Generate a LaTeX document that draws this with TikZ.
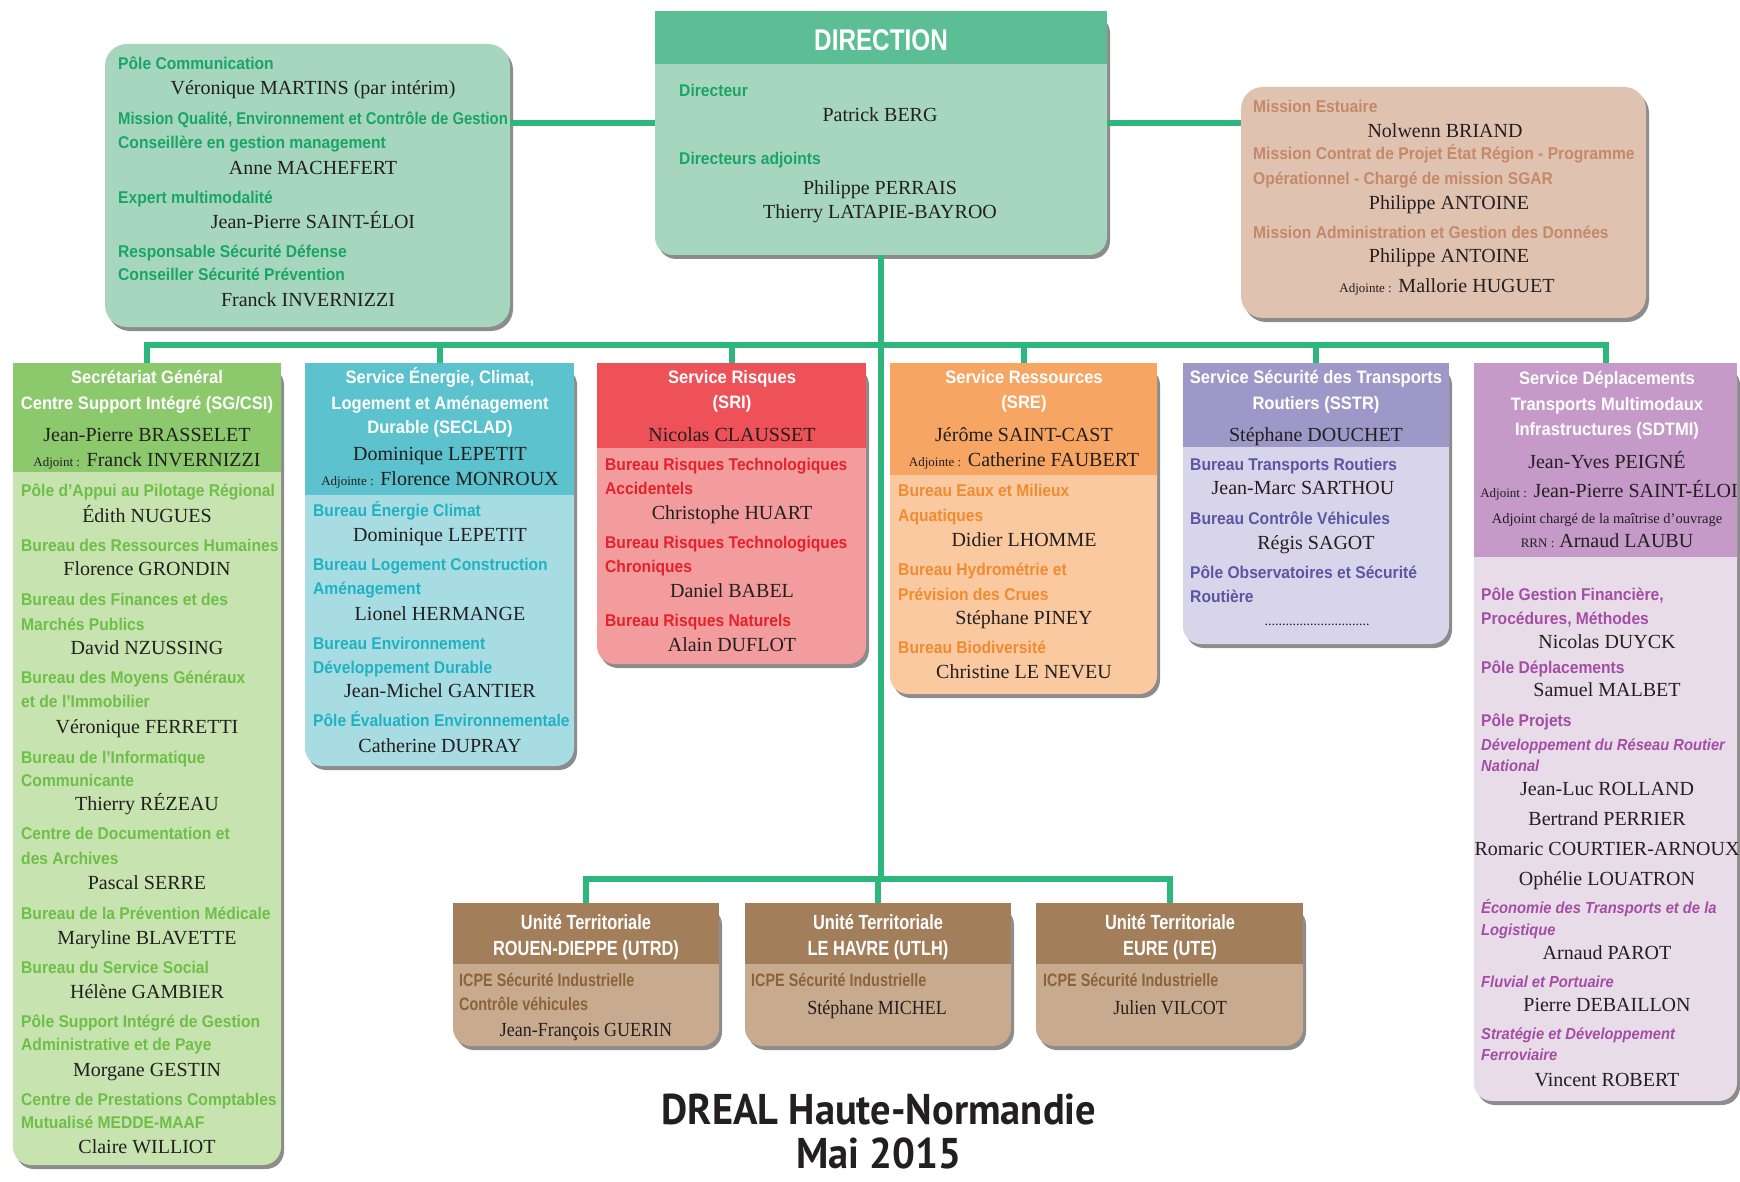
\documentclass[tikz,border=0pt]{standalone}
\usepackage{fontspec}
\usepackage{graphicx}
\setmainfont{Liberation Serif}
\newfontfamily\labff[FakeStretch=0.92]{Liberation Sans}
\newfontfamily\unff[FakeStretch=0.8]{Liberation Sans}
\newfontfamily\titff[FakeStretch=0.94]{PT Sans}
\newfontfamily\nmnff[FakeStretch=0.9]{Liberation Serif}
\usetikzlibrary{shadows}

\definecolor{lnc}{HTML}{2DB77C}
\definecolor{dirh}{HTML}{5CBE94}
\definecolor{dirb}{HTML}{A6D7BE}
\definecolor{dirl}{HTML}{19A563}
\definecolor{trb}{HTML}{E0C2B0}
\definecolor{trl}{HTML}{C4896A}
\definecolor{sgh}{HTML}{8CC86C}
\definecolor{sgb}{HTML}{C7E3B0}
\definecolor{sgl}{HTML}{6EBF47}
\definecolor{sech}{HTML}{5BC2CE}
\definecolor{secb}{HTML}{A8DCE3}
\definecolor{secl}{HTML}{1FB2C2}
\definecolor{srih}{HTML}{EE5157}
\definecolor{srib}{HTML}{F39C9D}
\definecolor{sril}{HTML}{E52129}
\definecolor{sreh}{HTML}{F6A563}
\definecolor{sreb}{HTML}{FAC9A0}
\definecolor{srel}{HTML}{F08B32}
\definecolor{ssth}{HTML}{9E98C9}
\definecolor{sstb}{HTML}{D8D5EB}
\definecolor{sstl}{HTML}{5D55A4}
\definecolor{sdth}{HTML}{C59AC8}
\definecolor{sdtb}{HTML}{E8DCE8}
\definecolor{sdtl}{HTML}{A44DA6}
\definecolor{uth}{HTML}{A27E5B}
\definecolor{utb}{HTML}{C8AB8F}
\definecolor{utl}{HTML}{8B6339}
\definecolor{nmc}{HTML}{231F20}

\newcommand\labfont{\labff\bfseries\fontsize{17}{20}\selectfont}
\newcommand\labifont{\labff\bfseries\itshape\fontsize{16}{19}\selectfont}
\newcommand\hdfont{\labff\bfseries\fontsize{18}{21}\selectfont}
\newcommand\nmfont{\fontsize{20}{22}\selectfont}
\newcommand\smfont{\fontsize{13}{14}\selectfont}
\newcommand\ufont{\unff\fontsize{18}{20}\selectfont}
\newcommand\uhfont{\unff\fontsize{20.5}{22}\selectfont}

\newcounter{tn}
\newcommand\Lb[3]{\stepcounter{tn}\node[lab] (t\arabic{tn}) at (#1,#2+6) {#3};}
\newcommand\Li[3]{\stepcounter{tn}\node[lab,font=\labifont] (t\arabic{tn}) at (#1,#2+6) {#3};}
\newcommand\Nm[3]{\stepcounter{tn}\node[nm] (t\arabic{tn}) at (#1,#2+7) {#3};}
\newcommand\Hd[3]{\stepcounter{tn}\node[hd] (t\arabic{tn}) at (#1,#2+6.5) {#3};}
\newcommand\Bx[7]{\node[boxs, rounded corners=#7, fill=#6, minimum width={#4-#2}, minimum height={#5-#3}] (#1) at ({(#2+#4)/2},{(#3+#5)/2}) {};}

\tikzset{
  conn/.style={draw=lnc, line width=6pt},
  lab/.style={anchor=base west, inner sep=0pt, font=\labfont, text=curl},
  nm/.style={anchor=base, inner sep=0pt, font=\nmfont, text=nmc},
  hd/.style={anchor=base, inner sep=0pt, font=\hdfont, text=white},
  boxs/.style={rectangle, inner sep=0pt, outer sep=0pt,
    drop shadow={shadow xshift=3pt, shadow yshift=-4pt, opacity=0.45, fill=black}},
  titl/.style={anchor=base, inner sep=0pt, text=nmc, font=\titff\bfseries\fontsize{43}{46}\selectfont}
}

\begin{document}
\begin{tikzpicture}[x=1pt,y=-1pt]
\useasboundingbox (0,0) rectangle (1740,1182);
\fill[white] (0,0) rectangle (1740,1182);
\colorlet{curl}{dirl}

% ---------- DIRECTION ----------
\Bx{dir}{655}{11}{1107}{255}{dirb}{18pt}
\fill[dirh] (655,11) rectangle (1107,64);
\node[anchor=base, inner sep=0pt, text=white, font=\labff\bfseries\fontsize{30}{32}\selectfont] (dtitle) at (881,51) {\scalebox{0.88}[1]{DIRECTION}};
\Lb{679}{91}{Directeur}
\Nm{880}{115}{Patrick BERG}
\Lb{679}{159}{Directeurs adjoints}
\Nm{880}{188}{Philippe PERRAIS}
\Nm{880}{212}{Thierry LATAPIE-BAYROO}

% ---------- top left ----------
\Bx{tl}{105}{44}{510}{327}{dirb}{22pt}
\Lb{118}{64}{Pôle Communication}
\Nm{313}{88}{Véronique MARTINS (par intérim)}
\Lb{118}{119}{\scalebox{0.95}[1]{Mission Qualité, Environnement et Contrôle de Gestion}}
\Lb{118}{143}{Conseillère en gestion management}
\Nm{313}{168}{Anne MACHEFERT}
\Lb{118}{198}{Expert multimodalité}
\Nm{313}{222}{Jean-Pierre SAINT-ÉLOI}
\Lb{118}{252}{Responsable Sécurité Défense}
\Lb{118}{275}{Conseiller Sécurité Prévention}
\Nm{308}{300}{Franck INVERNIZZI}

% ---------- top right ----------
\Bx{tr}{1241}{87}{1646}{318}{trb}{22pt}
\colorlet{curl}{trl}
\Lb{1253}{107}{Mission Estuaire}
\Nm{1445}{131}{Nolwenn BRIAND}
\Lb{1253}{154}{Mission Contrat de Projet État Région - Programme}
\Lb{1253}{179}{Opérationnel - Chargé de mission SGAR}
\Nm{1449}{203}{Philippe ANTOINE}
\Lb{1253}{233}{Mission Administration et Gestion des Données}
\Nm{1449}{256}{Philippe ANTOINE}
\Nm{1447}{286}{{\smfont Adjointe :} Mallorie HUGUET}

% ---------- SG ----------
\Bx{sg}{13}{363}{281}{1165}{sgb}{18pt}
\fill[sgh] (13,363) rectangle (281,472);
\colorlet{curl}{sgl}
\Hd{147}{377}{Secrétariat Général}
\Hd{147}{403}{Centre Support Intégré (SG/CSI)}
\Nm{147}{434}{Jean-Pierre BRASSELET}
\Nm{147}{459}{{\smfont Adjoint :} Franck INVERNIZZI}
\Lb{21}{490}{Pôle d’Appui au Pilotage Régional}
\Nm{147}{515}{Édith NUGUES}
\Lb{21}{545}{Bureau des Ressources Humaines}
\Nm{147}{568}{Florence GRONDIN}
\Lb{21}{599}{Bureau des Finances et des}
\Lb{21}{624}{Marchés Publics}
\Nm{147}{647}{David NZUSSING}
\Lb{21}{677}{Bureau des Moyens Généraux}
\Lb{21}{701}{et de l’Immobilier}
\Nm{147}{726}{Véronique FERRETTI}
\Lb{21}{757}{Bureau de l’Informatique}
\Lb{21}{780}{Communicante}
\Nm{147}{803}{Thierry RÉZEAU}
\Lb{21}{833}{Centre de Documentation et}
\Lb{21}{858}{des Archives}
\Nm{147}{882}{Pascal SERRE}
\Lb{21}{913}{Bureau de la Prévention Médicale}
\Nm{147}{937}{Maryline BLAVETTE}
\Lb{21}{967}{Bureau du Service Social}
\Nm{147}{991}{Hélène GAMBIER}
\Lb{21}{1021}{Pôle Support Intégré de Gestion}
\Lb{21}{1044}{Administrative et de Paye}
\Nm{147}{1069}{Morgane GESTIN}
\Lb{21}{1099}{Centre de Prestations Comptables}
\Lb{21}{1122}{Mutualisé MEDDE-MAAF}
\Nm{147}{1146}{Claire WILLIOT}

% ---------- SECLAD ----------
\Bx{seclad}{305}{363}{574}{766}{secb}{18pt}
\fill[sech] (305,363) rectangle (574,495);
\colorlet{curl}{secl}
\Hd{440}{377}{Service Énergie, Climat,}
\Hd{440}{403}{Logement et Aménagement}
\Hd{440}{427}{Durable (SECLAD)}
\Nm{440}{453}{Dominique LEPETIT}
\Nm{440}{478}{{\smfont Adjointe :} Florence MONROUX}
\Lb{313}{510}{Bureau Énergie Climat}
\Nm{440}{534}{Dominique LEPETIT}
\Lb{313}{564}{Bureau Logement Construction}
\Lb{313}{588}{Aménagement}
\Nm{440}{613}{Lionel HERMANGE}
\Lb{313}{643}{Bureau Environnement}
\Lb{313}{667}{Développement Durable}
\Nm{440}{690}{Jean-Michel GANTIER}
\Lb{313}{720}{Pôle Évaluation Environnementale}
\Nm{440}{745}{Catherine DUPRAY}

% ---------- SRI ----------
\Bx{sri}{597}{363}{866}{664}{srib}{18pt}
\fill[srih] (597,363) rectangle (866,448);
\colorlet{curl}{sril}
\Hd{732}{377}{Service Risques}
\Hd{732}{402}{(SRI)}
\Nm{732}{434}{Nicolas CLAUSSET}
\Lb{605}{464}{Bureau Risques Technologiques}
\Lb{605}{488}{Accidentels}
\Nm{732}{512}{Christophe HUART}
\Lb{605}{542}{Bureau Risques Technologiques}
\Lb{605}{566}{Chroniques}
\Nm{732}{590}{Daniel BABEL}
\Lb{605}{620}{Bureau Risques Naturels}
\Nm{732}{644}{Alain DUFLOT}

% ---------- SRE ----------
\Bx{sre}{890}{363}{1157}{694}{sreb}{18pt}
\fill[sreh] (890,363) rectangle (1157,475);
\colorlet{curl}{srel}
\Hd{1024}{377}{Service Ressources}
\Hd{1024}{402}{(SRE)}
\Nm{1024}{434}{Jérôme SAINT-CAST}
\Nm{1024}{459}{{\smfont Adjointe :} Catherine FAUBERT}
\Lb{898}{490}{Bureau Eaux et Milieux}
\Lb{898}{515}{Aquatiques}
\Nm{1024}{539}{Didier LHOMME}
\Lb{898}{569}{Bureau Hydrométrie et}
\Lb{898}{594}{Prévision des Crues}
\Nm{1024}{617}{Stéphane PINEY}
\Lb{898}{647}{Bureau Biodiversité}
\Nm{1024}{671}{Christine LE NEVEU}

% ---------- SSTR ----------
\Bx{sstr}{1183}{363}{1449}{644}{sstb}{18pt}
\fill[ssth] (1183,363) rectangle (1449,447);
\colorlet{curl}{sstl}
\Hd{1316}{377}{Service Sécurité des Transports}
\Hd{1316}{403}{Routiers (SSTR)}
\Nm{1316}{434}{Stéphane DOUCHET}
\Lb{1190}{464}{Bureau Transports Routiers}
\Nm{1303}{487}{Jean-Marc SARTHOU}
\Lb{1190}{518}{Bureau Contrôle Véhicules}
\Nm{1316}{542}{Régis SAGOT}
\Lb{1190}{572}{Pôle Observatoires et Sécurité}
\Lb{1190}{596}{Routière}
\Nm{1317}{618}{\fontsize{14}{16}\selectfont ..............................}

% ---------- SDTMI ----------
\Bx{sdtmi}{1474}{363}{1737}{1101}{sdtb}{18pt}
\fill[sdth] (1474,363) rectangle (1737,557);
\colorlet{curl}{sdtl}
\Hd{1607}{378}{Service Déplacements}
\Hd{1607}{404}{Transports Multimodaux}
\Hd{1607}{429}{Infrastructures (SDTMI)}
\Nm{1607}{461}{Jean-Yves PEIGNÉ}
\Nm{1609}{490}{{\smfont Adjoint :} Jean-Pierre SAINT-ÉLOI}
\Nm{1607}{516}{\fontsize{14.5}{16}\selectfont Adjoint chargé de la maîtrise d’ouvrage}
\Nm{1607}{540}{{\smfont RRN :} Arnaud LAUBU}
\Lb{1481}{594}{Pôle Gestion Financière,}
\Lb{1481}{618}{Procédures, Méthodes}
\Nm{1607}{641}{Nicolas DUYCK}
\Lb{1481}{667}{Pôle Déplacements}
\Nm{1607}{689}{Samuel MALBET}
\Lb{1481}{720}{Pôle Projets}
\Li{1481}{744}{Développement du Réseau Routier}
\Li{1481}{765}{National}
\Nm{1607}{788}{Jean-Luc ROLLAND}
\Nm{1607}{818}{Bertrand PERRIER}
\Nm{1607}{848}{Romaric COURTIER-ARNOUX}
\Nm{1607}{878}{Ophélie LOUATRON}
\Li{1481}{907}{Économie des Transports et de la}
\Li{1481}{929}{Logistique}
\Nm{1607}{952}{Arnaud PAROT}
\Li{1481}{981}{Fluvial et Portuaire}
\Nm{1607}{1004}{Pierre DEBAILLON}
\Li{1481}{1033}{Stratégie et Développement}
\Li{1481}{1054}{Ferroviaire}
\Nm{1607}{1079}{Vincent ROBERT}

% ---------- Unités territoriales ----------
\colorlet{curl}{utl}
\Bx{utrd}{453}{903}{719}{1046}{utb}{18pt}
\fill[uth] (453,903) rectangle (719,964);
\Hd{586}{923}{\uhfont Unité Territoriale}
\Hd{586}{949}{\uhfont ROUEN-DIEPPE (UTRD)}
\Lb{459}{980}{\ufont ICPE Sécurité Industrielle}
\Lb{459}{1004}{\ufont Contrôle véhicules}
\Nm{586}{1029}{\nmnff Jean-François GUERIN}

\Bx{utlh}{745}{903}{1011}{1046}{utb}{18pt}
\fill[uth] (745,903) rectangle (1011,964);
\Hd{878}{923}{\uhfont Unité Territoriale}
\Hd{878}{949}{\uhfont LE HAVRE (UTLH)}
\Lb{751}{980}{\ufont ICPE Sécurité Industrielle}
\Nm{877}{1007}{\nmnff Stéphane MICHEL}

\Bx{ute}{1036}{903}{1303}{1046}{utb}{18pt}
\fill[uth] (1036,903) rectangle (1303,964);
\Hd{1170}{923}{\uhfont Unité Territoriale}
\Hd{1170}{949}{\uhfont EURE (UTE)}
\Lb{1043}{980}{\ufont ICPE Sécurité Industrielle}
\Nm{1170}{1007}{\nmnff Julien VILCOT}

% ---------- connectors ----------
\coordinate (hy) at (0,123);
\coordinate (bus) at (0,345);
\coordinate (ubus) at (0,879);
\draw[conn] (tl.east |- hy) -- (dir.west |- hy);
\draw[conn] (dir.east |- hy) -- (tr.west |- hy);
\draw[conn] (dir.south) -- (dir.south |- ubus);
\draw[conn] (sg.north) -- (sg.north |- bus) -- (sdtmi.north |- bus) -- (sdtmi.north);
\foreach \n in {seclad,sri,sre,sstr} \draw[conn] (\n.north |- bus) -- (\n.north);
\draw[conn] (utrd.north) -- (utrd.north |- ubus) -- (ute.north |- ubus) -- (ute.north);
\draw[conn] (utlh.north |- ubus) -- (utlh.north);

% ---------- title ----------
\node[titl] (title1) at (879,1124) {DREAL Haute-Normandie};
\node[titl] (title2) at (879,1168) {Mai 2015};
\end{tikzpicture}
\end{document}
